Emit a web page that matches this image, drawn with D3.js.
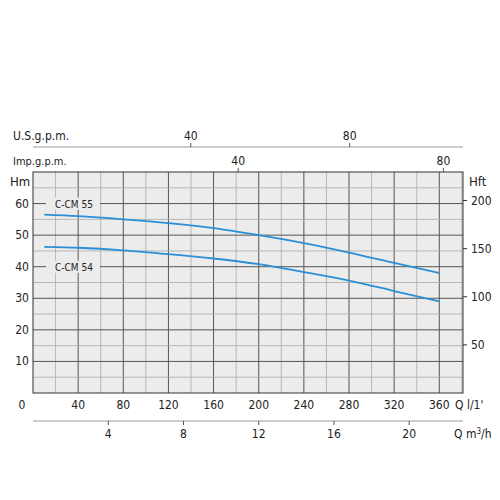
<!DOCTYPE html>
<html>
<head>
<script src="https://cdn.jsdelivr.net/npm/d3@7"></script>
<style>body{margin:0;background:#fff;} text{font-family:"DejaVu Sans Condensed","DejaVu Sans",sans-serif;font-size:11px;fill:#222;}</style>
</head>
<body>
<script>
var flow = [10, 40, 80, 120, 160, 200, 240, 280, 320, 360];
var headCM55 = [56.5, 56, 55, 53.8, 52.2, 50, 47.5, 44.5, 41.2, 38];
var headCM54 = [46.3, 46, 45.2, 44, 42.6, 40.8, 38.3, 35.6, 32.3, 29];
var qTicks = [40, 80, 120, 160, 200, 240, 280, 320, 360];
var hTicks = [10, 20, 30, 40, 50, 60];
var ftTicks = [50, 100, 150, 200];
var m3hTicks = [4, 8, 12, 16, 20];
var usTicks = [40, 80];
var impTicks = [40, 80];

var svg = d3.select("body").append("svg").attr("width", 500).attr("height", 500);
var x = d3.scaleLinear().domain([0, 381]).range([33, 463]);
var y = d3.scaleLinear().domain([0, 70]).range([393, 172]);

svg.append("rect").attr("x", 33).attr("y", 172).attr("width", 430).attr("height", 221).attr("fill", "#ececec");
// grid
d3.range(20, 381, 20).forEach(function(q){
  svg.append("line").attr("x1", x(q)).attr("x2", x(q)).attr("y1", 172).attr("y2", 393)
    .attr("stroke", q % 40 == 0 ? "#555" : "#aaa").attr("stroke-width", q % 40 == 0 ? 1 : 0.8);
});
d3.range(5, 70, 5).forEach(function(h){
  svg.append("line").attr("x1", 33).attr("x2", 463).attr("y1", y(h)).attr("y2", y(h))
    .attr("stroke", h % 10 == 0 ? "#555" : "#aaa").attr("stroke-width", h % 10 == 0 ? 1 : 0.8);
});
svg.append("rect").attr("x", 33).attr("y", 172).attr("width", 430).attr("height", 221).attr("fill", "none").attr("stroke", "#333");

// left labels
hTicks.forEach(function(h){
  svg.append("text").attr("x", 22).attr("y", y(h) + 4).attr("text-anchor", "middle").style("font-size", "12px").text(h);
});
svg.append("text").attr("x", 22).attr("y", 409).attr("text-anchor", "middle").style("font-size", "12px").text("0");
svg.append("text").attr("x", 10).attr("y", 186).style("font-size", "13px").text("Hm");
// right ft axis
var ft = function(f){ return y(f * 0.3048); };
ftTicks.forEach(function(f){
  svg.append("line").attr("x1", 463).attr("x2", 467).attr("y1", ft(f)).attr("y2", ft(f)).attr("stroke", "#333");
  svg.append("text").attr("x", 471).attr("y", ft(f) + 4).style("font-size", "12px").text(f);
});
svg.append("text").attr("x", 469).attr("y", 186).style("font-size", "13px").text("Hft");

// bottom Q labels
qTicks.forEach(function(q){
  svg.append("text").attr("x", x(q)).attr("y", 409).attr("text-anchor", "middle").style("font-size", "12px").text(q);
});
svg.append("text").attr("x", 455).attr("y", 409).style("font-size", "12px").text("Q  l/1'");

// m3/h axis
svg.append("line").attr("x1", 33).attr("x2", 463).attr("y1", 421).attr("y2", 421).attr("stroke", "#999");
m3hTicks.forEach(function(m){
  var q = m * 1000 / 60;
  svg.append("line").attr("x1", x(q)).attr("x2", x(q)).attr("y1", 421).attr("y2", 425).attr("stroke", "#555");
  svg.append("text").attr("x", x(q)).attr("y", 438).attr("text-anchor", "middle").style("font-size", "12px").text(m);
});
svg.append("text").attr("x", 454).attr("y", 438).style("font-size", "12px").html("Q  m<tspan dy='-4' style='font-size:8px'>3</tspan><tspan dy='4'>/h</tspan>");

// US gpm axis
svg.append("line").attr("x1", 33).attr("x2", 463).attr("y1", 147).attr("y2", 147).attr("stroke", "#999");
usTicks.forEach(function(g){
  var q = g * 3.52 - 1;
  svg.append("line").attr("x1", x(q)).attr("x2", x(q)).attr("y1", 143).attr("y2", 147).attr("stroke", "#555");
  svg.append("text").attr("x", x(q)).attr("y", 140).attr("text-anchor", "middle").style("font-size", "12px").text(g);
});
svg.append("text").attr("x", 13).attr("y", 140).style("font-size", "12px").text("U.S.g.p.m.");
impTicks.forEach(function(g){
  var q = g * 4.546;
  svg.append("line").attr("x1", x(q)).attr("x2", x(q)).attr("y1", 168).attr("y2", 172).attr("stroke", "#555");
  svg.append("text").attr("x", x(q)).attr("y", 165).attr("text-anchor", "middle").style("font-size", "12px").text(g);
});
svg.append("text").attr("x", 13).attr("y", 165).style("font-size", "11px").text("Imp.g.p.m.");

// curves
var line = d3.line().x(function(d){ return x(d[0]); }).y(function(d){ return y(d[1]); }).curve(d3.curveMonotoneX);
[headCM55, headCM54].forEach(function(s){
  svg.append("path").attr("d", line(flow.map(function(q, i){ return [q, s[i]]; })))
    .attr("fill", "none").attr("stroke", "#2a8fd6").attr("stroke-width", 1.8);
});
[["C-CM 55", 60], ["C-CM 54", 40]].forEach(function(l){
  svg.append("rect").attr("x", 46).attr("y", y(l[1]) - 6).attr("width", 54).attr("height", 12).attr("fill", "#ececec");
  svg.append("text").attr("x", 55).attr("y", y(l[1]) + 4).style("font-size", "10px").text(l[0]);
});
</script>
</body>
</html>
